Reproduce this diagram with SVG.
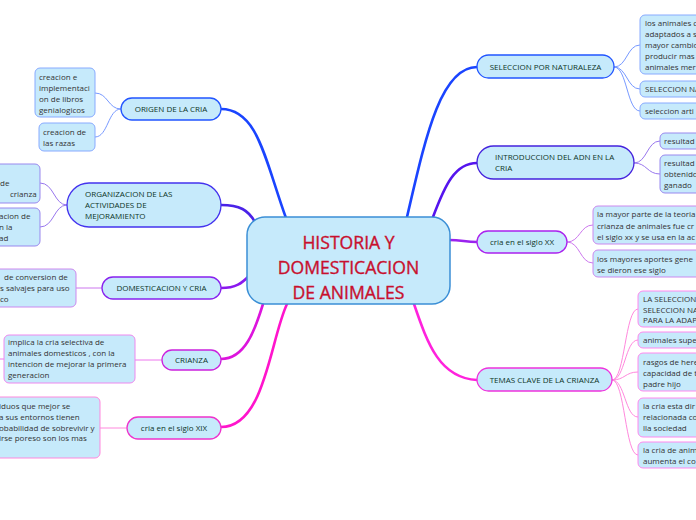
<svg xmlns="http://www.w3.org/2000/svg" width="696" height="520" viewBox="0 0 696 520">
<style>
text{font-family:"Open Sans","DejaVu Sans",sans-serif;}
.n{font-size:8px;fill:#0d3527;}
.l{font-size:8px;fill:#333;}
.c{font-size:17.6px;fill:#c8102e;text-anchor:middle;stroke:#c8102e;stroke-width:0.35;}
.m{text-anchor:middle;}
.bx{fill:#c6eafb;stroke-width:1.3;}
.lf{fill:#c6eafb;stroke-width:1;}
.th{fill:none;stroke-width:2.6;stroke-linecap:round;}
.tn{fill:none;stroke-width:1;}
</style>
<rect width="696" height="520" fill="#fff"/>
<g id="connectors">
<path class="th" stroke="#1a44ff" d="M221,109 C258,109 265,160 286,218"/>
<path class="th" stroke="#4a22e8" d="M221,205 C240,205 248,210 255,222"/>
<path class="th" stroke="#8a18ee" d="M221,288 C236,288 242,283 249,276"/>
<path class="th" stroke="#dd14dd" d="M221,359 C245,359 255,330 263,304"/>
<path class="th" stroke="#ff14cc" d="M221,427 C265,427 270,340 287,304"/>
<path class="th" stroke="#1a44ff" d="M407,217 C425,140 440,67 477,67"/>
<path class="th" stroke="#5514ee" d="M433,217 C445,185 455,163 477,163"/>
<path class="th" stroke="#9a22ee" d="M449,240 C462,240 465,242 477,242"/>
<path class="th" stroke="#ff22dd" d="M414,304 C428,345 440,378 477,380"/>
<g stroke="#7799ff" class="tn">
<path class="tn" d="M121,109 C108,109 108,93 95,93"/>
<path class="tn" d="M121,109 C108,109 108,137 95,137"/>
<path class="tn" d="M614,67 C627,67 627,45 640,45"/>
<path class="tn" d="M614,67 C627,67 627,89 640,89"/>
<path class="tn" d="M614,67 C627,67 627,111 640,111"/>
</g>
<g stroke="#9977ee" class="tn">
<path class="tn" d="M67,205 C54,205 54,183 40,183"/>
<path class="tn" d="M67,205 C54,205 54,227 40,227"/>
<path class="tn" d="M634,163 C647,163 647,141 660,141"/>
<path class="tn" d="M634,163 C647,163 647,174 660,174"/>
</g>
<g stroke="#cc77ee" class="tn">
<path class="tn" d="M102,288 L76,288"/>
<path class="tn" d="M567,242 C580,242 580,225 593,225"/>
<path class="tn" d="M567,242 C580,242 580,263 593,263"/>
</g>
<g stroke="#ee77ee" class="tn">
<path class="tn" d="M162,360 L135,360"/>
<path class="tn" d="M0,359 L4,359"/>
</g>
<g stroke="#ff88dd" class="tn">
<path class="tn" d="M127,428 L100,428"/>
<path class="tn" d="M612,380 C625,380 625,309 638,309"/>
<path class="tn" d="M612,380 C625,380 625,340 638,340"/>
<path class="tn" d="M612,380 C625,380 625,372 638,372"/>
<path class="tn" d="M612,380 C625,380 625,417 638,417"/>
<path class="tn" d="M612,380 C625,380 625,455 638,455"/>
</g>
</g>
<g id="center">
<rect x="247" y="217" width="203" height="87" rx="18" fill="#c6eafb" stroke="#3b8fd6" stroke-width="1.5"/>
<text class="c" x="348.5" y="249">HISTORIA Y</text>
<text class="c" x="348.5" y="274">DOMESTICACION</text>
<text class="c" x="348.5" y="299">DE ANIMALES</text>
</g>
<g id="origen">
<rect class="bx" stroke="#2255ff" x="121" y="98" width="100" height="22" rx="11"/>
<text class="n m" x="171" y="112">ORIGEN DE LA CRIA</text>
</g>
<g id="origen-l1">
<rect class="lf" stroke="#88aaff" x="35" y="68" width="60" height="49" rx="5"/>
<text class="l" x="39" y="80">creacion e</text>
<text class="l" x="39" y="91">implementaci</text>
<text class="l" x="39" y="102">on de libros</text>
<text class="l" x="39" y="113">genialogicos</text>
</g>
<g id="origen-l2">
<rect class="lf" stroke="#88aaff" x="39" y="123" width="56" height="28" rx="5"/>
<text class="l" x="43" y="135">creacion de</text>
<text class="l" x="43" y="146">las razas</text>
</g>
<g id="organizacion">
<rect class="bx" stroke="#4433ee" x="67" y="183" width="154" height="44" rx="22"/>
<text class="n" x="85" y="197">ORGANIZACION DE LAS</text>
<text class="n" x="85" y="208">ACTIVIDADES DE</text>
<text class="n" x="85" y="218.5">MEJORAMIENTO</text>
</g>
<g id="organizacion-l1">
<rect class="lf" stroke="#9988ee" x="-10" y="164" width="50" height="39" rx="5"/>
<text class="l" x="0" y="186">de</text>
<text class="l" x="10" y="197">crianza</text>
</g>
<g id="organizacion-l2">
<rect class="lf" stroke="#9988ee" x="-10" y="208" width="50" height="38" rx="5"/>
<text class="l" x="-1" y="219">acion de</text>
<text class="l" x="-1" y="229.5">n la</text>
<text class="l" x="-1" y="240.5">ad</text>
</g>
<g id="domesticacion">
<rect class="bx" stroke="#8822ee" x="102" y="277" width="119" height="22" rx="11"/>
<text class="n m" x="161.5" y="291">DOMESTICACION Y CRIA</text>
</g>
<g id="domesticacion-l1">
<rect class="lf" stroke="#cc88ee" x="-10" y="269" width="86" height="38" rx="5"/>
<text class="l" x="4" y="280">de conversion de</text>
<text class="l" x="0" y="291">s salvajes para uso</text>
<text class="l" x="0" y="301.5">co</text>
</g>
<g id="crianza">
<rect class="bx" stroke="#cc22dd" x="162" y="350" width="59" height="20" rx="10"/>
<text class="n m" x="191.5" y="363">CRIANZA</text>
</g>
<g id="crianza-l1">
<rect class="lf" stroke="#ee88ee" x="4" y="335" width="131" height="48" rx="5"/>
<text class="l" x="8" y="345">implica la cria selectiva de</text>
<text class="l" x="8" y="356">animales domesticos , con la</text>
<text class="l" x="8" y="367">intencion de mejorar la primera</text>
<text class="l" x="8" y="378">generacion</text>
</g>
<g id="xix">
<rect class="bx" stroke="#ee33cc" x="127" y="417" width="94" height="22" rx="11"/>
<text class="n m" x="174" y="431">cria en el siglo XIX</text>
</g>
<g id="xix-l1">
<rect class="lf" stroke="#ff88dd" x="-10" y="397" width="110" height="61" rx="5"/>
<text class="l" x="-1" y="409">iduos que mejor se</text>
<text class="l" x="-1" y="420">a sus entornos tienen</text>
<text class="l" x="-1" y="430.5">obabilidad de sobrevivir y</text>
<text class="l" x="-1" y="441">irse poreso son los mas</text>
</g>
<g id="seleccion">
<rect class="bx" stroke="#2255ff" x="477" y="55" width="137" height="23" rx="11.5"/>
<text class="n m" x="545.5" y="69.5">SELECCION POR NATURALEZA</text>
</g>
<g id="seleccion-l1">
<rect class="lf" stroke="#88aaff" x="640" y="15" width="80" height="59" rx="5"/>
<text class="l" x="645" y="26">los animales c</text>
<text class="l" x="645" y="37">adaptados a s</text>
<text class="l" x="645" y="48">mayor cambio</text>
<text class="l" x="645" y="59">producir mas</text>
<text class="l" x="645" y="70">animales mer</text>
</g>
<g id="seleccion-l2">
<rect class="lf" stroke="#88aaff" x="640" y="81" width="80" height="16" rx="5"/>
<text class="l" x="645" y="92">SELECCION NA</text>
</g>
<g id="seleccion-l3">
<rect class="lf" stroke="#88aaff" x="640" y="103" width="80" height="16" rx="5"/>
<text class="l" x="645" y="114">seleccion arti</text>
</g>
<g id="introduccion">
<rect class="bx" stroke="#4422dd" x="477" y="146" width="157" height="33" rx="16.5"/>
<text class="n" x="495" y="160">INTRODUCCION DEL ADN EN LA</text>
<text class="n" x="495" y="171">CRIA</text>
</g>
<g id="introduccion-l1">
<rect class="lf" stroke="#9988ee" x="660" y="133" width="60" height="16" rx="5"/>
<text class="l" x="664" y="144">resultad</text>
</g>
<g id="introduccion-l2">
<rect class="lf" stroke="#9988ee" x="660" y="155" width="60" height="38" rx="5"/>
<text class="l" x="664" y="166">resultad</text>
<text class="l" x="664" y="177">obtenido</text>
<text class="l" x="664" y="188">ganado</text>
</g>
<g id="xx">
<rect class="bx" stroke="#aa22ee" x="477" y="231" width="90" height="22" rx="11"/>
<text class="n m" x="522" y="245">cria en el siglo XX</text>
</g>
<g id="xx-l1">
<rect class="lf" stroke="#cc88ee" x="593" y="206" width="130" height="38" rx="5"/>
<text class="l" x="597" y="217">la mayor parte de la teoria</text>
<text class="l" x="597" y="228.5">crianza de animales fue cr</text>
<text class="l" x="597" y="239.5">el siglo xx y se usa en la ac</text>
</g>
<g id="xx-l2">
<rect class="lf" stroke="#cc88ee" x="593" y="250" width="130" height="27" rx="5"/>
<text class="l" x="597" y="261.5">los mayores aportes gene</text>
<text class="l" x="597" y="272.5">se dieron ese siglo</text>
</g>
<g id="temas">
<rect class="bx" stroke="#ee33dd" x="477" y="368" width="135" height="23" rx="11.5"/>
<text class="n m" x="544.5" y="382.5">TEMAS CLAVE DE LA CRIANZA</text>
</g>
<g id="temas-l1">
<rect class="lf" stroke="#ff88ee" x="638" y="291" width="80" height="36" rx="5"/>
<text class="l" x="643" y="302">LA SELECCION I</text>
<text class="l" x="643" y="312.5">SELECCION NAT</text>
<text class="l" x="643" y="323">PARA LA ADAPT</text>
</g>
<g id="temas-l2">
<rect class="lf" stroke="#ff88ee" x="638" y="332" width="80" height="16" rx="5"/>
<text class="l" x="643" y="343">animales supe</text>
</g>
<g id="temas-l3">
<rect class="lf" stroke="#ff88ee" x="638" y="353" width="80" height="38" rx="5"/>
<text class="l" x="643" y="365">rasgos de here</text>
<text class="l" x="643" y="376">capacidad de t</text>
<text class="l" x="643" y="387">padre hijo</text>
</g>
<g id="temas-l4">
<rect class="lf" stroke="#ff88ee" x="638" y="398" width="80" height="39" rx="5"/>
<text class="l" x="643" y="408.5">la cria esta dir</text>
<text class="l" x="643" y="419.5">relacionada co</text>
<text class="l" x="643" y="430.5">lla sociedad</text>
</g>
<g id="temas-l5">
<rect class="lf" stroke="#ff88ee" x="638" y="442" width="80" height="26" rx="5"/>
<text class="l" x="643" y="453">la cria de anim</text>
<text class="l" x="643" y="464">aumenta el co</text>
</g>
</svg>
